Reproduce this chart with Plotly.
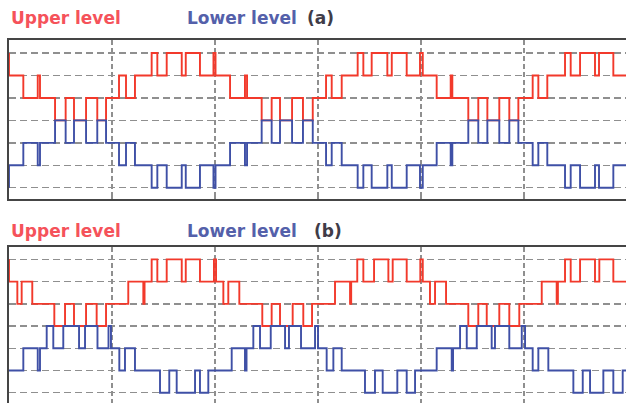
import plotly.graph_objects as go

# ---------------- data (time in ms, level index 0..6) ----------------
# Panel (a): switching instants shared by both levels (lower level mirrors upper)
t_a = [0.00, 0.00, 1.39, 2.79, 3.01, 4.47, 5.50, 6.31, 7.48, 8.57, 9.42,
       10.68, 11.36, 12.23, 13.85, 14.40, 15.31, 16.77, 17.16, 18.54,
       19.85, 20.05, 21.46, 22.91, 23.11, 24.53, 25.50, 26.31, 27.48, 28.54, 29.49,
       30.78, 31.33, 32.30, 33.85, 34.40, 35.21, 36.73, 37.16, 38.61,
       39.90, 40.17, 41.52, 42.88, 43.04, 44.59, 45.56, 46.44, 47.60, 48.57, 49.45,
       50.84, 51.39, 52.26, 53.98, 54.53, 55.44, 56.89, 57.28, 58.67, 59.90]
upper_a = [6, 5, 4, 5, 4, 3, 4, 3, 4, 3, 4,
           5, 4, 5, 6, 5, 6, 5, 6, 5,
           6, 5, 4, 5, 4, 3, 4, 3, 4, 3, 4,
           5, 4, 5, 6, 5, 6, 5, 6, 5,
           6, 5, 4, 5, 4, 3, 4, 3, 4, 3, 4,
           5, 4, 5, 6, 5, 6, 5, 6, 5, 5]
lower_a = [0, 1, 2, 1, 2, 3, 2, 3, 2, 3, 2,
           1, 2, 1, 0, 1, 0, 1, 0, 1,
           0, 1, 2, 1, 2, 3, 2, 3, 2, 3, 2,
           1, 2, 1, 0, 1, 0, 1, 0, 1,
           0, 1, 2, 1, 2, 3, 2, 3, 2, 3, 2,
           1, 2, 1, 0, 1, 0, 1, 0, 1, 1]

# Panel (b): upper level
t_upper_b = [0.00, 0.00, 0.81, 1.23, 2.26, 4.40, 5.44, 6.31, 7.48, 8.51, 9.42,
             11.58, 13.04, 13.16, 13.85, 14.40, 15.31, 16.77, 17.16, 18.54,
             19.90, 20.10, 20.81, 21.29, 22.36, 24.59, 25.50, 26.31, 27.54, 28.57, 29.42,
             31.65, 33.11, 33.22, 33.81, 34.40, 35.44, 36.83, 37.25, 38.61,
             39.93, 40.17, 40.87, 41.36, 42.43, 44.59, 45.56, 46.38, 47.60, 48.57, 49.54,
             51.72, 53.17, 53.29, 53.98, 54.53, 55.44, 56.89, 57.31, 58.67, 59.90]
upper_b = [6, 5, 4, 5, 4, 3, 4, 3, 4, 3, 4,
           5, 4, 5, 6, 5, 6, 5, 6, 5,
           6, 5, 4, 5, 4, 3, 4, 3, 4, 3, 4,
           5, 4, 5, 6, 5, 6, 5, 6, 5,
           6, 5, 4, 5, 4, 3, 4, 3, 4, 3, 4,
           5, 4, 5, 6, 5, 6, 5, 6, 5, 5]

# Panel (b): lower level
t_lower_b = [0.00, 1.39, 2.79, 3.01, 3.66, 4.30, 5.27, 6.80, 7.38, 8.59,
             9.66, 9.90, 10.71, 11.26, 12.23, 14.66, 15.56, 16.28, 18.06, 18.54, 19.35,
             21.62, 22.91, 23.06, 23.72, 24.37, 25.41, 26.80, 27.18, 28.35,
             29.71, 30.00, 30.84, 31.49, 32.30, 34.56, 35.53, 36.28, 37.70, 38.61, 39.42,
             41.52, 42.98, 43.11, 43.79, 44.44, 45.41, 46.86, 47.18, 48.57,
             49.78, 50.10, 50.84, 51.39, 52.36, 54.79, 55.70, 56.41, 57.70, 58.67, 59.58,
             59.90]
lower_b = [1, 2, 1, 2, 3, 2, 3, 2, 3, 2,
           3, 2, 1, 2, 1, 0, 1, 0, 1, 0, 1,
           2, 1, 2, 3, 2, 3, 2, 3, 2,
           3, 2, 1, 2, 1, 0, 1, 0, 1, 0, 1,
           2, 1, 2, 3, 2, 3, 2, 3, 2,
           3, 2, 1, 2, 1, 0, 1, 0, 1, 0, 1,
           1]

level_ticks = [0, 1, 2, 3, 4, 5, 6]
time_ticks = [10, 20, 30, 40, 50]
label_upper = "Upper level"
label_lower = "Lower level"
panel_tags = ["(a)", "(b)"]

# ---------------- styling ----------------
RED = "#f2392b"
BLUE = "#3f50a6"
RED_TXT = "#f5525a"
BLUE_TXT = "#5460aa"
TAG_TXT = "#403c48"
GRID = "#8f8f8f"
FRAME = "#454545"

W, H = 626, 403
L_M = 9

fig = go.Figure()
fig.add_trace(go.Scatter(x=t_a, y=upper_a, mode="lines", line=dict(shape="hv", color=RED, width=1.9),
                         xaxis="x", yaxis="y", showlegend=False, hoverinfo="skip"))
fig.add_trace(go.Scatter(x=t_a, y=lower_a, mode="lines", line=dict(shape="hv", color=BLUE, width=1.9),
                         xaxis="x", yaxis="y", showlegend=False, hoverinfo="skip"))
fig.add_trace(go.Scatter(x=t_upper_b, y=upper_b, mode="lines", line=dict(shape="hv", color=RED, width=1.9),
                         xaxis="x2", yaxis="y2", showlegend=False, hoverinfo="skip"))
fig.add_trace(go.Scatter(x=t_lower_b, y=lower_b, mode="lines", line=dict(shape="hv", color=BLUE, width=1.9),
                         xaxis="x2", yaxis="y2", showlegend=False, hoverinfo="skip"))

def px_to_py(px):
    return 1 - px / H

xcommon = dict(range=[0, 59.9], tickvals=time_ticks, showticklabels=False,
               showgrid=True, gridcolor=GRID, gridwidth=1.3, griddash="5px,3px",
               zeroline=False, showline=True, linecolor=FRAME, linewidth=2,
               ticks="inside", ticklen=4, tickcolor=GRID, tickwidth=1.3, fixedrange=True)
ycommon = dict(tickvals=level_ticks, showticklabels=False,
               showgrid=True, gridcolor=GRID, gridwidth=1.4, griddash="7px,4px",
               zeroline=False, showline=True, linecolor=FRAME, linewidth=2,
               ticks="", mirror=False, fixedrange=True)

fig.update_layout(
    width=W, height=H,
    margin=dict(l=L_M, r=0, t=0, b=0),
    paper_bgcolor="white", plot_bgcolor="white",
    xaxis=dict(**xcommon, anchor="y", mirror="ticks"),
    yaxis=dict(**ycommon, range=[-0.5, 6.6], domain=[px_to_py(199), px_to_py(39.6)], anchor="x"),
    xaxis2=dict(**xcommon, anchor="y2", side="top", mirror=False),
    yaxis2=dict(**ycommon, range=[-0.46, 6.57], domain=[0, px_to_py(246.7)], anchor="x2"),
)

def xp(px):
    return (px - L_M) / (W - L_M)

font_base = dict(family="DejaVu Sans", size=17, weight="bold")
ann = []
for tag, yc, tagx in [(panel_tags[0], 18.3, 305), (panel_tags[1], 231.0, 311.7)]:
    ann.append(dict(text=label_upper, x=xp(9), y=px_to_py(yc), xref="paper", yref="paper",
                    xanchor="left", yanchor="middle", showarrow=False,
                    font=dict(**font_base, color=RED_TXT)))
    ann.append(dict(text=label_lower, x=xp(185), y=px_to_py(yc), xref="paper", yref="paper",
                    xanchor="left", yanchor="middle", showarrow=False,
                    font=dict(**font_base, color=BLUE_TXT)))
    ann.append(dict(text=tag, x=xp(tagx), y=px_to_py(yc), xref="paper", yref="paper",
                    xanchor="left", yanchor="middle", showarrow=False,
                    font=dict(**font_base, color=TAG_TXT)))
fig.update_layout(annotations=ann)

fig.write_html("out.html",
               config={"displayModeBar": False, "staticPlot": True},
               post_script="document.body.style.margin='0';document.body.style.padding='0';"
                           "document.body.style.overflow='hidden';")
